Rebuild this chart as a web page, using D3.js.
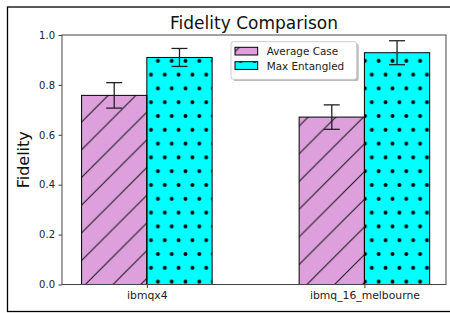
<!DOCTYPE html>
<html>
<head>
<meta charset="utf-8">
<script src="https://cdn.jsdelivr.net/npm/d3@7"></script>
<style>
  html, body { margin: 0; padding: 0; background: #fff; }
  svg { display: block; font-family: "DejaVu Sans", sans-serif; }
</style>
</head>
<body>
<script>
const categories = ["ibmqx4", "ibmq_16_melbourne"];
const seriesNames = ["Average Case", "Max Entangled"];
const avgValues = [0.758, 0.671];
const avgErrors = [0.051, 0.049];
const maxValues = [0.910, 0.929];
const maxErrors = [0.036, 0.048];
const yTicks = [0.0, 0.2, 0.4, 0.6, 0.8, 1.0];
const seriesColors = ["#DDA0DD", "#00FFFF"];

const W = 450, H = 313;
const plot = { left: 62, right: 446, top: 35, bottom: 284.5 };
const barWidth = 0.3;

const svg = d3.select("body").append("svg").attr("width", W).attr("height", H);

// patterns
const defs = svg.append("defs");
const P = 27.7;
const hatch = defs.append("pattern").attr("id", "hatchSlash")
  .attr("patternUnits", "userSpaceOnUse")
  .attr("x", 9.7).attr("y", 0).attr("width", P).attr("height", P);
hatch.append("path")
  .attr("d", `M0,${P} L${P},0 M-2,2 L2,-2 M${P-2},${P+2} L${P+2},${P-2}`)
  .attr("stroke", "#111").attr("stroke-width", 1).attr("fill", "none");

const DW = 13.8, DH = 27.6;
const dots = defs.append("pattern").attr("id", "hatchDots")
  .attr("patternUnits", "userSpaceOnUse")
  .attr("x", 147.55).attr("y", 178.1).attr("width", DW).attr("height", DH);
dots.append("circle").attr("cx", DW / 4).attr("cy", DH / 4).attr("r", 2).attr("fill", "#000");
dots.append("circle").attr("cx", 3 * DW / 4).attr("cy", 3 * DH / 4).attr("r", 2).attr("fill", "#000");
const patterns = ["url(#hatchSlash)", "url(#hatchDots)"];

// outer frame
svg.append("rect").attr("x", 7.5).attr("y", 7).attr("width", 450).attr("height", 304.5)
  .attr("fill", "none").attr("stroke", "#000").attr("stroke-width", 1.3);

const x = d3.scaleLinear().domain([-0.39, 1.375]).range([plot.left, plot.right]);
const y = d3.scaleLinear().domain([0, 1]).range([plot.bottom, plot.top]);

const data = [];
categories.forEach((c, i) => {
  data.push({ s: 0, i, v: avgValues[i], e: avgErrors[i], x0: i - barWidth, x1: i });
  data.push({ s: 1, i, v: maxValues[i], e: maxErrors[i], x0: i, x1: i + barWidth });
});

const bars = svg.append("g");
bars.selectAll("rect.fill").data(data).join("rect")
  .attr("x", d => x(d.x0)).attr("y", d => y(d.v))
  .attr("width", d => x(d.x1) - x(d.x0)).attr("height", d => y(0) - y(d.v))
  .attr("fill", d => seriesColors[d.s]);
bars.selectAll("rect.hatch").data(data).join("rect")
  .attr("x", d => x(d.x0)).attr("y", d => y(d.v))
  .attr("width", d => x(d.x1) - x(d.x0)).attr("height", d => y(0) - y(d.v))
  .attr("fill", d => patterns[d.s]);
bars.selectAll("rect.edge").data(data).join("rect")
  .attr("x", d => x(d.x0)).attr("y", d => y(d.v))
  .attr("width", d => x(d.x1) - x(d.x0)).attr("height", d => y(0) - y(d.v))
  .attr("fill", "none").attr("stroke", "#000").attr("stroke-width", 1);

// error bars
const eb = svg.append("g").attr("stroke", "#222").attr("stroke-width", 1.3).attr("fill", "none");
data.forEach(d => {
  const cx = x((d.x0 + d.x1) / 2);
  eb.append("line").attr("x1", cx).attr("x2", cx).attr("y1", y(d.v - d.e)).attr("y2", y(d.v + d.e));
  eb.append("line").attr("x1", cx - 8).attr("x2", cx + 8).attr("y1", y(d.v - d.e)).attr("y2", y(d.v - d.e));
  eb.append("line").attr("x1", cx - 8).attr("x2", cx + 8).attr("y1", y(d.v + d.e)).attr("y2", y(d.v + d.e));
});

// axes frame
svg.append("rect").attr("x", plot.left).attr("y", plot.top)
  .attr("width", plot.right - plot.left).attr("height", plot.bottom - plot.top)
  .attr("fill", "none").attr("stroke", "#444").attr("stroke-width", 1);

// y axis
const yAxis = d3.axisLeft(y).tickValues(yTicks).tickFormat(d3.format(".1f")).tickSize(3.5).tickPadding(3.5);
const gy = svg.append("g").attr("transform", `translate(${plot.left},0)`).call(yAxis);
gy.select(".domain").remove();
gy.selectAll("line").attr("stroke", "#444");
gy.selectAll("text").attr("font-size", 10).attr("fill", "#222").attr("font-family", "DejaVu Sans");

// x axis
const xAxis = d3.axisBottom(x).tickValues(categories.map((c, i) => i)).tickFormat((d) => categories[d]).tickSize(3.5).tickPadding(3.5);
const gx = svg.append("g").attr("transform", `translate(0,${plot.bottom})`).call(xAxis);
gx.select(".domain").remove();
gx.selectAll("line").attr("stroke", "#444");
gx.selectAll("text").attr("font-size", 10.8).attr("fill", "#222").attr("font-family", "DejaVu Sans");

// title and label
svg.append("text").attr("x", (plot.left + plot.right) / 2).attr("y", 29)
  .attr("text-anchor", "middle").attr("font-size", 17).attr("fill", "#111")
  .text("Fidelity Comparison");
svg.append("text").attr("transform", `translate(29,${(plot.top + plot.bottom) / 2}) rotate(-90)`)
  .attr("text-anchor", "middle").attr("font-size", 16).attr("fill", "#111")
  .text("Fidelity");

// legend
const lg = svg.append("g");
lg.append("rect").attr("x", 233).attr("y", 43.5).attr("width", 125.7).attr("height", 37.6)
  .attr("rx", 2.5).attr("fill", "#bbb");
lg.append("rect").attr("x", 231).attr("y", 41.7).attr("width", 125.7).attr("height", 37.6)
  .attr("rx", 2.5).attr("fill", "#fff").attr("stroke", "#ccc").attr("stroke-width", 1);
seriesNames.forEach((s, k) => {
  const yy = 47.3 + k * 14.4;
  lg.append("rect").attr("x", 235).attr("y", yy).attr("width", 22.7).attr("height", 7.7)
    .attr("fill", seriesColors[k]);
  lg.append("rect").attr("x", 235).attr("y", yy).attr("width", 22.7).attr("height", 7.7)
    .attr("fill", patterns[k]);
  lg.append("rect").attr("x", 235).attr("y", yy).attr("width", 22.7).attr("height", 7.7)
    .attr("fill", "none").attr("stroke", "#000").attr("stroke-width", 1);
  lg.append("text").attr("x", 266.7).attr("y", yy + 7.8).attr("font-size", 10.4).attr("fill", "#222")
    .text(s);
});
</script>
</body>
</html>
